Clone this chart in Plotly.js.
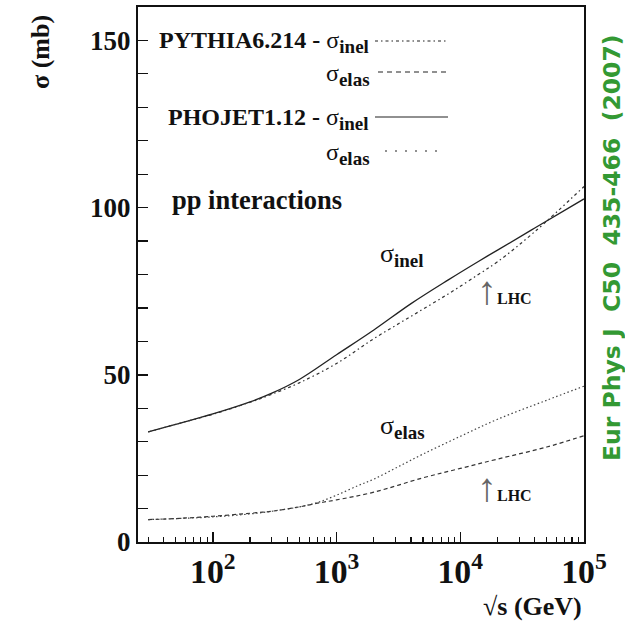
<!DOCTYPE html>
<html>
<head>
<meta charset="utf-8">
<script src="https://cdn.plot.ly/plotly-3.0.1.min.js"></script>
<style>html,body{margin:0;padding:0;background:#fff;}#plot{width:625px;height:624px;}</style>
</head>
<body>
<div id="plot"></div>
<script>
// sqrt(s) in GeV
const phojetInelX = [30, 50, 100, 200, 300, 500, 1000, 2000, 4000, 8000, 14000, 20000, 40000, 100000];
const phojetInelY = [32.9, 35.2, 38.3, 41.9, 44.5, 48.6, 56.0, 63.4, 71.3, 78.4, 83.9, 87.3, 93.9, 102.6];

const pythiaInelX = [30, 50, 100, 200, 300, 500, 1000, 2000, 4000, 8000, 14000, 20000, 40000, 100000];
const pythiaInelY = [32.9, 35.2, 38.2, 41.8, 44.2, 47.6, 53.4, 60.8, 67.5, 74.2, 80.0, 83.8, 92.8, 106.3];

const pythiaElasX = [30, 50, 100, 200, 300, 500, 700, 1000, 2000, 5000, 10000, 20000, 50000, 100000];
const pythiaElasY = [6.7, 7.0, 7.7, 8.6, 9.2, 10.5, 11.6, 12.6, 14.9, 19.2, 22.0, 24.8, 28.4, 31.8];

const phojetElasX = [30, 50, 100, 200, 300, 500, 700, 1000, 1500, 2000, 3000, 5000, 10000, 20000, 50000, 100000];
const phojetElasY = [6.7, 7.0, 7.5, 8.4, 9.2, 10.5, 11.8, 14.0, 16.9, 18.8, 22.1, 26.3, 31.6, 36.7, 42.4, 46.6];

const yTickStep = 50;
const yRange = [0, 160];
const xLogRange = [1.395, 5];

// layout geometry helpers (pixel -> paper)
const L = 138, R = 584, T = 7, B = 542;
const px = p => (p - L) / (R - L);
const py = p => (B - p) / (B - T);

const serif = 'Liberation Serif';
const lineCol = '#222';

const traces = [
  {x: phojetInelX, y: phojetInelY, mode: 'lines', line: {color: lineCol, width: 1.3, shape: 'spline'}},
  {x: pythiaInelX, y: pythiaInelY, mode: 'lines', line: {color: '#333', width: 1.2, dash: '3px,3px,1.5px,3px', shape: 'spline'}},
  {x: pythiaElasX, y: pythiaElasY, mode: 'lines', line: {color: '#333', width: 1.2, dash: '4px,3px', shape: 'spline'}},
  {x: phojetElasX, y: phojetElasY, mode: 'lines', line: {color: '#444', width: 1.2, dash: '1.5px,2.5px', shape: 'spline'}}
];

function ann(text, x, y, opts) {
  return Object.assign({xref: 'paper', yref: 'paper', x: px(x), y: py(y), text: text,
    showarrow: false, xanchor: 'left', yanchor: 'middle',
    font: {family: serif, size: 24, color: '#111'}}, opts || {});
}
const sub = s => '<sub><span style="font-size:19px;font-weight:bold">' + s + '</span></sub>';
const lhc = '<span style="font-size:40px;color:#666">↑</span><span style="font-size:16px;font-weight:bold">LHC</span>';

const annotations = [
  ann('<b>PYTHIA6.214 -</b> σ' + sub('inel'), 371, 42, {xanchor: 'right'}),
  ann('σ' + sub('elas'), 372, 75, {xanchor: 'right'}),
  ann('<b>PHOJET1.12 -</b> σ' + sub('inel'), 371, 119, {xanchor: 'right'}),
  ann('σ' + sub('elas'), 372, 154, {xanchor: 'right'}),
  ann('<b>pp interactions</b>', 170, 200, {font: {family: serif, size: 26.5, color: '#111'}}),
  ann('σ' + sub('inel'), 378, 255, {font: {family: serif, size: 26, color: '#111'}}),
  ann(lhc, 475, 290),
  ann('σ' + sub('elas'), 378, 427, {font: {family: serif, size: 26, color: '#111'}}),
  ann(lhc, 475, 487),
  ann('<b>σ (mb)</b>', 40, 52, {xanchor: 'center', textangle: -90, font: {family: serif, size: 26, color: '#111'}}),
  ann('<b>√s (GeV)</b>', 584, 606, {xanchor: 'right', font: {family: serif, size: 26, color: '#111'}}),
  ann('Eur Phys J  C50  435-466  (2007)', 612, 248, {xanchor: 'center', textangle: -90,
    font: {family: 'DejaVu Sans', size: 23.5, color: '#339933', weight: 'bold'}})
];

function seg(x0, x1, y, dash) {
  return {type: 'line', xref: 'paper', yref: 'paper', x0: px(x0), x1: px(x1), y0: py(y), y1: py(y),
    line: {color: '#222', width: 1.2, dash: dash}};
}
const shapes = [
  seg(375, 448, 41, '3px,3px,1.5px,3px'),
  seg(378, 448, 72, '5px,4px'),
  seg(375, 448, 117, 'solid'),
  seg(385, 440, 151, '2px,8px')
];

const layout = {
  width: 625, height: 624,
  margin: {l: L, r: 625 - R, t: T, b: 624 - B},
  paper_bgcolor: '#fff', plot_bgcolor: '#fff',
  showlegend: false,
  xaxis: {
    type: 'log', range: xLogRange, dtick: 1, exponentformat: 'power',
    showline: true, linewidth: 2, linecolor: '#111', mirror: true,
    ticks: 'inside', ticklen: 10, tickwidth: 1.5, tickcolor: '#111',
    showgrid: false, zeroline: false,
    tickfont: {family: serif, size: 27, color: '#111', weight: 'bold'},
    minor: {ticks: 'inside', ticklen: 5, tickwidth: 1.2, tickcolor: '#111', dtick: 'D1', showgrid: false}
  },
  yaxis: {
    range: yRange, tick0: 0, dtick: yTickStep,
    showline: true, linewidth: 2, linecolor: '#111', mirror: true,
    ticks: 'inside', ticklen: 10, tickwidth: 1.5, tickcolor: '#111',
    showgrid: false, zeroline: false,
    tickfont: {family: serif, size: 27, color: '#111', weight: 'bold'},
    minor: {ticks: 'inside', ticklen: 10, tickwidth: 1.2, tickcolor: '#111', dtick: 10, showgrid: false}
  },
  annotations: annotations,
  shapes: shapes
};

Plotly.newPlot('plot', traces, layout, {staticPlot: true, displayModeBar: false});
</script>
</body>
</html>
